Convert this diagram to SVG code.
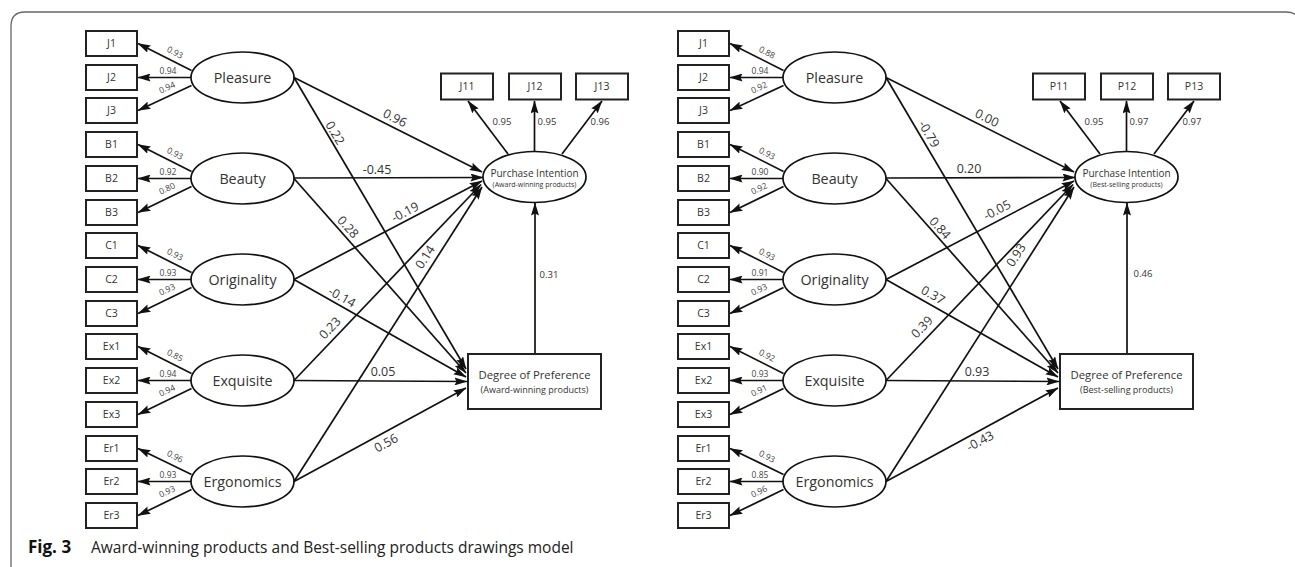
<svg xmlns="http://www.w3.org/2000/svg" width="1295" height="567" viewBox="0 0 1295 567">
<defs>
<marker id="ah" markerWidth="13" markerHeight="8" refX="12.5" refY="4" orient="auto" markerUnits="userSpaceOnUse"><path d="M0,0 L13,4 L0,8 L2,4 z" fill="#111"/></marker>
<style>
.bx{fill:#fff;stroke:#222;stroke-width:2}
.el{fill:#fff;stroke:#111;stroke-width:1.7}
.ln{fill:none;stroke:#111;stroke-width:1.7;marker-end:url(#ah)}
.t{font-family:"Open Sans","Noto Sans","Liberation Sans",sans-serif;fill:#333;text-anchor:middle}
.bt{font-size:10.5px}
.lt{font-size:14.3px}
.ld{font-size:8.5px;fill:#444}
.pl{font-size:12.5px}
.pi{font-size:9.5px}
.pt{font-size:10px}
.ps{font-size:7px}
.dt{font-size:11.3px}
.ds{font-size:9px}
.cap{font-family:"Open Sans","Noto Sans","Liberation Sans",sans-serif;font-size:15.5px;fill:#222}
</style>
</defs>
<rect width="1295" height="567" fill="#fff"/>
<path d="M11,567 V26 Q11,12 25,12 H1286 Q1300,12 1300,26" fill="none" stroke="#666" stroke-width="1.3"/>

<!-- ===== connectors ===== -->
<g id="connectors">
<!-- left panel indicators -->
<path class="ln" d="M191.5,70.5 L138,43.5"/><path class="ln" d="M191,77.5 L138,77.5"/><path class="ln" d="M191.5,85.5 L138,110.5"/>
<path class="ln" d="M191.5,171.5 L138,144.5"/><path class="ln" d="M191,178.5 L138,178.5"/><path class="ln" d="M191.5,186.5 L138,212.5"/>
<path class="ln" d="M191.5,272.5 L138,245.5"/><path class="ln" d="M191,279.5 L138,279.5"/><path class="ln" d="M191.5,287.5 L138,313.5"/>
<path class="ln" d="M191.5,373.5 L138,346.5"/><path class="ln" d="M191,380.5 L138,380.5"/><path class="ln" d="M191.5,388.5 L138,414.5"/>
<path class="ln" d="M191.5,474.5 L138,448.5"/><path class="ln" d="M191,481.5 L138,481.5"/><path class="ln" d="M191.5,489.5 L138,515.5"/>
<!-- left PI indicators -->
<path class="ln" d="M508,154 L468,101"/><path class="ln" d="M534.5,151.5 L534.5,101"/><path class="ln" d="M562,154 L602,101"/>
<!-- left structural -->
<path class="ln" d="M294,77.5 L482,172"/>
<path class="ln" d="M294,77.5 L466,369"/>
<path class="ln" d="M294,178 L483,177.5"/>
<path class="ln" d="M294,178.5 L466,373"/>
<path class="ln" d="M294,279.5 L482,181"/>
<path class="ln" d="M294,279.5 L466,377"/>
<path class="ln" d="M294,380.5 L481,184.5"/>
<path class="ln" d="M294,380.5 L467,381.5"/>
<path class="ln" d="M294,481.5 L482,187"/>
<path class="ln" d="M294,481.5 L466,388"/>
<path class="ln" d="M535,354 L535,203"/>

<!-- right panel indicators -->
<path class="ln" d="M783.5,70.5 L730,43.5"/><path class="ln" d="M783,77.5 L730,77.5"/><path class="ln" d="M783.5,85.5 L730,110.5"/>
<path class="ln" d="M783.5,171.5 L730,144.5"/><path class="ln" d="M783,178.5 L730,178.5"/><path class="ln" d="M783.5,186.5 L730,212.5"/>
<path class="ln" d="M783.5,272.5 L730,245.5"/><path class="ln" d="M783,279.5 L730,279.5"/><path class="ln" d="M783.5,287.5 L730,313.5"/>
<path class="ln" d="M783.5,373.5 L730,346.5"/><path class="ln" d="M783,380.5 L730,380.5"/><path class="ln" d="M783.5,388.5 L730,414.5"/>
<path class="ln" d="M783.5,474.5 L730,448.5"/><path class="ln" d="M783,481.5 L730,481.5"/><path class="ln" d="M783.5,489.5 L730,515.5"/>
<!-- right PI indicators -->
<path class="ln" d="M1100,154 L1060,101"/><path class="ln" d="M1126.5,151.5 L1126.5,101"/><path class="ln" d="M1154,154 L1194,101"/>
<!-- right structural -->
<path class="ln" d="M886,77.5 L1074,172"/>
<path class="ln" d="M886,77.5 L1058,369"/>
<path class="ln" d="M886,178 L1075,177.5"/>
<path class="ln" d="M886,178.5 L1058,373"/>
<path class="ln" d="M886,279.5 L1074,181"/>
<path class="ln" d="M886,279.5 L1058,377"/>
<path class="ln" d="M886,380.5 L1073,184.5"/>
<path class="ln" d="M886,380.5 L1059,381.5"/>
<path class="ln" d="M886,481.5 L1074,187"/>
<path class="ln" d="M886,481.5 L1058,388"/>
<path class="ln" d="M1127,354 L1127,203"/>
</g>

<!-- ===== connector labels ===== -->
<g id="labels" class="t">
<!-- left loadings -->
<text class="ld" transform="translate(175,52.5) rotate(26.8)" dy="0.35em">0.93</text>
<text class="ld" x="168" y="71" dy="0.35em">0.94</text>
<text class="ld" transform="translate(167,87.5) rotate(-25)" dy="0.35em">0.94</text>
<text class="ld" transform="translate(175,153.5) rotate(26.8)" dy="0.35em">0.93</text>
<text class="ld" x="168" y="172" dy="0.35em">0.92</text>
<text class="ld" transform="translate(167,188.5) rotate(-25)" dy="0.35em">0.80</text>
<text class="ld" transform="translate(175,254.5) rotate(26.8)" dy="0.35em">0.93</text>
<text class="ld" x="168" y="273" dy="0.35em">0.93</text>
<text class="ld" transform="translate(167,289.5) rotate(-25)" dy="0.35em">0.93</text>
<text class="ld" transform="translate(175,355.5) rotate(26.8)" dy="0.35em">0.85</text>
<text class="ld" x="168" y="374" dy="0.35em">0.94</text>
<text class="ld" transform="translate(167,390.5) rotate(-25)" dy="0.35em">0.94</text>
<text class="ld" transform="translate(175,456.5) rotate(26.8)" dy="0.35em">0.96</text>
<text class="ld" x="168" y="475" dy="0.35em">0.93</text>
<text class="ld" transform="translate(167,491.5) rotate(-25)" dy="0.35em">0.93</text>
<!-- left PI loadings -->
<text class="pi" x="502" y="122" dy="0.35em">0.95</text>
<text class="pi" x="547" y="122" dy="0.35em">0.95</text>
<text class="pi" x="600" y="122" dy="0.35em">0.96</text>
<!-- left paths -->
<text class="pl" transform="translate(395,118) rotate(26.7)" dy="0.35em">0.96</text>
<text class="pl" transform="translate(335,133) rotate(59.5)" dy="0.35em">0.22</text>
<text class="pl" x="377" y="170" dy="0.35em">-0.45</text>
<text class="pl" transform="translate(348,227) rotate(48.5)" dy="0.35em">0.28</text>
<text class="pl" transform="translate(405,212) rotate(-27.4)" dy="0.35em">-0.19</text>
<text class="pl" transform="translate(342,297) rotate(29.5)" dy="0.35em">-0.14</text>
<text class="pl" transform="translate(330,328) rotate(-46.3)" dy="0.35em">0.23</text>
<text class="pl" x="383" y="372" dy="0.35em">0.05</text>
<text class="pl" transform="translate(425,257) rotate(-57.4)" dy="0.35em">0.14</text>
<text class="pl" transform="translate(386,443) rotate(-28.5)" dy="0.35em">0.56</text>
<text class="pi" x="549" y="275" dy="0.35em">0.31</text>

<!-- right loadings -->
<text class="ld" transform="translate(767,52.5) rotate(26.8)" dy="0.35em">0.88</text>
<text class="ld" x="760" y="71" dy="0.35em">0.94</text>
<text class="ld" transform="translate(759,87.5) rotate(-25)" dy="0.35em">0.92</text>
<text class="ld" transform="translate(767,153.5) rotate(26.8)" dy="0.35em">0.93</text>
<text class="ld" x="760" y="172" dy="0.35em">0.90</text>
<text class="ld" transform="translate(759,188.5) rotate(-25)" dy="0.35em">0.92</text>
<text class="ld" transform="translate(767,254.5) rotate(26.8)" dy="0.35em">0.93</text>
<text class="ld" x="760" y="273" dy="0.35em">0.91</text>
<text class="ld" transform="translate(759,289.5) rotate(-25)" dy="0.35em">0.93</text>
<text class="ld" transform="translate(767,355.5) rotate(26.8)" dy="0.35em">0.92</text>
<text class="ld" x="760" y="374" dy="0.35em">0.93</text>
<text class="ld" transform="translate(759,390.5) rotate(-25)" dy="0.35em">0.91</text>
<text class="ld" transform="translate(767,456.5) rotate(26.8)" dy="0.35em">0.93</text>
<text class="ld" x="760" y="475" dy="0.35em">0.85</text>
<text class="ld" transform="translate(759,491.5) rotate(-25)" dy="0.35em">0.96</text>
<!-- right PI loadings -->
<text class="pi" x="1094" y="122" dy="0.35em">0.95</text>
<text class="pi" x="1139" y="122" dy="0.35em">0.97</text>
<text class="pi" x="1192" y="122" dy="0.35em">0.97</text>
<!-- right paths -->
<text class="pl" transform="translate(987,118) rotate(26.7)" dy="0.35em">0.00</text>
<text class="pl" transform="translate(929,134) rotate(59.5)" dy="0.35em">-0.79</text>
<text class="pl" x="969" y="169" dy="0.35em">0.20</text>
<text class="pl" transform="translate(940,228) rotate(48.5)" dy="0.35em">0.84</text>
<text class="pl" transform="translate(997,210) rotate(-27.4)" dy="0.35em">-0.05</text>
<text class="pl" transform="translate(933,295) rotate(29.5)" dy="0.35em">0.37</text>
<text class="pl" transform="translate(922,327) rotate(-46.3)" dy="0.35em">0.39</text>
<text class="pl" x="977" y="372" dy="0.35em">0.93</text>
<text class="pl" transform="translate(1016,255) rotate(-57.4)" dy="0.35em">0.93</text>
<text class="pl" transform="translate(980,441) rotate(-28.5)" dy="0.35em">-0.43</text>
<text class="pi" x="1143" y="274" dy="0.35em">0.46</text>
</g>

<!-- ===== left panel nodes ===== -->
<g id="L-J1"><rect class="bx" x="86" y="31" width="51" height="25"/><text class="t bt" x="111.5" y="43.5" dy="0.35em">J1</text></g>
<g id="L-J2"><rect class="bx" x="86" y="65" width="51" height="25"/><text class="t bt" x="111.5" y="77.5" dy="0.35em">J2</text></g>
<g id="L-J3"><rect class="bx" x="86" y="98" width="51" height="25"/><text class="t bt" x="111.5" y="110.5" dy="0.35em">J3</text></g>
<g id="L-B1"><rect class="bx" x="86" y="132" width="51" height="25"/><text class="t bt" x="111.5" y="144.5" dy="0.35em">B1</text></g>
<g id="L-B2"><rect class="bx" x="86" y="166" width="51" height="25"/><text class="t bt" x="111.5" y="178.5" dy="0.35em">B2</text></g>
<g id="L-B3"><rect class="bx" x="86" y="200" width="51" height="25"/><text class="t bt" x="111.5" y="212.5" dy="0.35em">B3</text></g>
<g id="L-C1"><rect class="bx" x="86" y="233" width="51" height="25"/><text class="t bt" x="111.5" y="245.5" dy="0.35em">C1</text></g>
<g id="L-C2"><rect class="bx" x="86" y="267" width="51" height="25"/><text class="t bt" x="111.5" y="279.5" dy="0.35em">C2</text></g>
<g id="L-C3"><rect class="bx" x="86" y="301" width="51" height="25"/><text class="t bt" x="111.5" y="313.5" dy="0.35em">C3</text></g>
<g id="L-Ex1"><rect class="bx" x="86" y="334" width="51" height="25"/><text class="t bt" x="111.5" y="346.5" dy="0.35em">Ex1</text></g>
<g id="L-Ex2"><rect class="bx" x="86" y="368" width="51" height="25"/><text class="t bt" x="111.5" y="380.5" dy="0.35em">Ex2</text></g>
<g id="L-Ex3"><rect class="bx" x="86" y="402" width="51" height="25"/><text class="t bt" x="111.5" y="414.5" dy="0.35em">Ex3</text></g>
<g id="L-Er1"><rect class="bx" x="86" y="436" width="51" height="25"/><text class="t bt" x="111.5" y="448.5" dy="0.35em">Er1</text></g>
<g id="L-Er2"><rect class="bx" x="86" y="469" width="51" height="25"/><text class="t bt" x="111.5" y="481.5" dy="0.35em">Er2</text></g>
<g id="L-Er3"><rect class="bx" x="86" y="503" width="51" height="25"/><text class="t bt" x="111.5" y="515.5" dy="0.35em">Er3</text></g>
<g id="L-Pleasure"><ellipse class="el" cx="242.5" cy="77.5" rx="51.5" ry="25.5"/><text class="t lt" x="242.5" y="77.5" dy="0.35em">Pleasure</text></g>
<g id="L-Beauty"><ellipse class="el" cx="242.5" cy="178.5" rx="51.5" ry="25.5"/><text class="t lt" x="242.5" y="178.5" dy="0.35em">Beauty</text></g>
<g id="L-Originality"><ellipse class="el" cx="242.5" cy="279.5" rx="51.5" ry="25.5"/><text class="t lt" x="242.5" y="279.5" dy="0.35em">Originality</text></g>
<g id="L-Exquisite"><ellipse class="el" cx="242.5" cy="380.5" rx="51.5" ry="25.5"/><text class="t lt" x="242.5" y="380.5" dy="0.35em">Exquisite</text></g>
<g id="L-Ergonomics"><ellipse class="el" cx="242.5" cy="481.5" rx="51.5" ry="25.5"/><text class="t lt" x="242.5" y="481.5" dy="0.35em">Ergonomics</text></g>
<g id="L-J11"><rect class="bx" x="441" y="73.5" width="52" height="26"/><text class="t bt" x="467" y="86.5" dy="0.35em">J11</text></g>
<g id="L-J12"><rect class="bx" x="509" y="73.5" width="52" height="26"/><text class="t bt" x="535" y="86.5" dy="0.35em">J12</text></g>
<g id="L-J13"><rect class="bx" x="576" y="73.5" width="52" height="26"/><text class="t bt" x="602" y="86.5" dy="0.35em">J13</text></g>
<g id="L-PI"><ellipse class="el" cx="534.5" cy="177" rx="51.5" ry="25.5"/><text class="t pt" x="534.5" y="173" dy="0.35em">Purchase Intention</text><text class="t ps" x="534.5" y="185" dy="0.35em">(Award-winning products)</text></g>
<g id="L-DoP"><rect class="bx" x="468" y="354" width="133" height="55"/><text class="t dt" x="534.5" y="375" dy="0.35em">Degree of Preference</text><text class="t ds" x="534.5" y="389.5" dy="0.35em">(Award-winning products)</text></g>

<!-- ===== right panel nodes ===== -->
<g id="R-J1"><rect class="bx" x="678" y="31" width="51" height="25"/><text class="t bt" x="703.5" y="43.5" dy="0.35em">J1</text></g>
<g id="R-J2"><rect class="bx" x="678" y="65" width="51" height="25"/><text class="t bt" x="703.5" y="77.5" dy="0.35em">J2</text></g>
<g id="R-J3"><rect class="bx" x="678" y="98" width="51" height="25"/><text class="t bt" x="703.5" y="110.5" dy="0.35em">J3</text></g>
<g id="R-B1"><rect class="bx" x="678" y="132" width="51" height="25"/><text class="t bt" x="703.5" y="144.5" dy="0.35em">B1</text></g>
<g id="R-B2"><rect class="bx" x="678" y="166" width="51" height="25"/><text class="t bt" x="703.5" y="178.5" dy="0.35em">B2</text></g>
<g id="R-B3"><rect class="bx" x="678" y="200" width="51" height="25"/><text class="t bt" x="703.5" y="212.5" dy="0.35em">B3</text></g>
<g id="R-C1"><rect class="bx" x="678" y="233" width="51" height="25"/><text class="t bt" x="703.5" y="245.5" dy="0.35em">C1</text></g>
<g id="R-C2"><rect class="bx" x="678" y="267" width="51" height="25"/><text class="t bt" x="703.5" y="279.5" dy="0.35em">C2</text></g>
<g id="R-C3"><rect class="bx" x="678" y="301" width="51" height="25"/><text class="t bt" x="703.5" y="313.5" dy="0.35em">C3</text></g>
<g id="R-Ex1"><rect class="bx" x="678" y="334" width="51" height="25"/><text class="t bt" x="703.5" y="346.5" dy="0.35em">Ex1</text></g>
<g id="R-Ex2"><rect class="bx" x="678" y="368" width="51" height="25"/><text class="t bt" x="703.5" y="380.5" dy="0.35em">Ex2</text></g>
<g id="R-Ex3"><rect class="bx" x="678" y="402" width="51" height="25"/><text class="t bt" x="703.5" y="414.5" dy="0.35em">Ex3</text></g>
<g id="R-Er1"><rect class="bx" x="678" y="436" width="51" height="25"/><text class="t bt" x="703.5" y="448.5" dy="0.35em">Er1</text></g>
<g id="R-Er2"><rect class="bx" x="678" y="469" width="51" height="25"/><text class="t bt" x="703.5" y="481.5" dy="0.35em">Er2</text></g>
<g id="R-Er3"><rect class="bx" x="678" y="503" width="51" height="25"/><text class="t bt" x="703.5" y="515.5" dy="0.35em">Er3</text></g>
<g id="R-Pleasure"><ellipse class="el" cx="834.5" cy="77.5" rx="51.5" ry="25.5"/><text class="t lt" x="834.5" y="77.5" dy="0.35em">Pleasure</text></g>
<g id="R-Beauty"><ellipse class="el" cx="834.5" cy="178.5" rx="51.5" ry="25.5"/><text class="t lt" x="834.5" y="178.5" dy="0.35em">Beauty</text></g>
<g id="R-Originality"><ellipse class="el" cx="834.5" cy="279.5" rx="51.5" ry="25.5"/><text class="t lt" x="834.5" y="279.5" dy="0.35em">Originality</text></g>
<g id="R-Exquisite"><ellipse class="el" cx="834.5" cy="380.5" rx="51.5" ry="25.5"/><text class="t lt" x="834.5" y="380.5" dy="0.35em">Exquisite</text></g>
<g id="R-Ergonomics"><ellipse class="el" cx="834.5" cy="481.5" rx="51.5" ry="25.5"/><text class="t lt" x="834.5" y="481.5" dy="0.35em">Ergonomics</text></g>
<g id="R-P11"><rect class="bx" x="1033" y="73.5" width="52" height="26"/><text class="t bt" x="1059" y="86.5" dy="0.35em">P11</text></g>
<g id="R-P12"><rect class="bx" x="1101" y="73.5" width="52" height="26"/><text class="t bt" x="1127" y="86.5" dy="0.35em">P12</text></g>
<g id="R-P13"><rect class="bx" x="1168" y="73.5" width="52" height="26"/><text class="t bt" x="1194" y="86.5" dy="0.35em">P13</text></g>
<g id="R-PI"><ellipse class="el" cx="1126.5" cy="177" rx="51.5" ry="25.5"/><text class="t pt" x="1126.5" y="173" dy="0.35em">Purchase Intention</text><text class="t ps" x="1126.5" y="185" dy="0.35em">(Best-selling products)</text></g>
<g id="R-DoP"><rect class="bx" x="1060" y="354" width="133" height="55"/><text class="t dt" x="1126.5" y="375" dy="0.35em">Degree of Preference</text><text class="t ds" x="1126.5" y="389.5" dy="0.35em">(Best-selling products)</text></g>

<!-- caption -->
<text class="cap" x="28" y="553"><tspan font-weight="bold" fill="#111" style="font-size:17px">Fig. 3</tspan><tspan x="91">Award-winning products and Best-selling products drawings model</tspan></text>
</svg>
